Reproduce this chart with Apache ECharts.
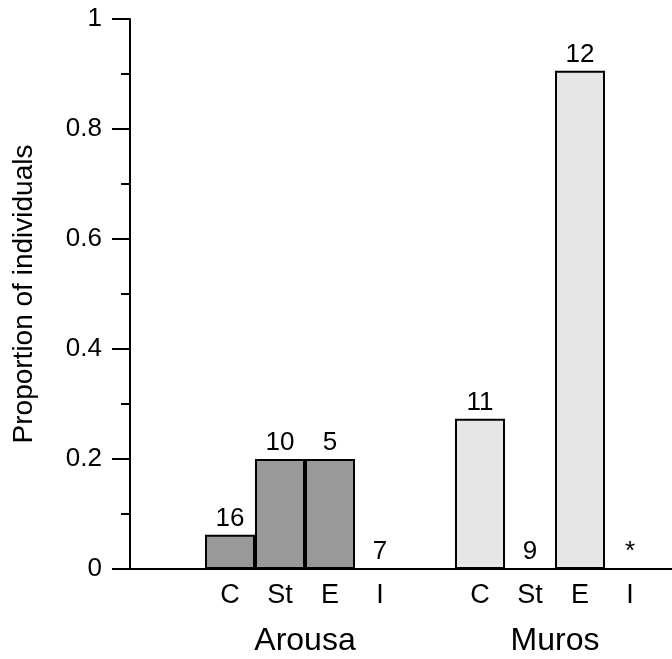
<!DOCTYPE html>
<html>
<head>
<meta charset="utf-8">
<script src="https://cdn.jsdelivr.net/npm/echarts@6/dist/echarts.min.js"></script>
<style>
  html, body { margin: 0; padding: 0; background: #ffffff; }
  #chart { width: 672px; height: 659px; }
</style>
</head>
<body>
<div id="chart"></div>
<script>
// x slots (blank ones are gaps between the two sites)
const categories = ['', '', 'C', 'St', 'E', 'I', '', 'C', 'St', 'E', 'I', '']
const groupSlots = ['', '', '', 'Arousa', '', '', '', '', 'Muros', '', '']

// proportion of individuals, per stage
const arousaValues = [0.0625, 0.2, 0.2, 0]
const murosValues = [0.273, 0, 0.906, 0]
// sample sizes shown above bars
const arousaN = ['16', '10', '5', '7']
const murosN = ['11', '9', '12', '*']

const yTicks = [0, 0.2, 0.4, 0.6, 0.8, 1]

const FONT = 'Liberation Sans, Arial, sans-serif'

// place each site's values on its slots (first slot index 2 and 7)
function placeValues(values, labels, start) {
  return categories.map((c, i) => {
    const k = i - start
    if (k >= 0 && k < values.length) {
      return { value: values[k], label: { formatter: labels[k] } }
    }
    return null
  })
}

const chart = echarts.init(document.getElementById('chart'))

const barLabel = {
  show: true,
  position: 'top',
  distance: 3,
  color: '#000',
  fontFamily: FONT,
  fontSize: 26,
}

const option = {
  backgroundColor: '#ffffff',
  animation: false,
  grid: { left: 130, top: 19, width: 550, height: 550, outerBoundsMode: 'none', containLabel: false },
  xAxis: [
    {
      type: 'category',
      data: categories,
      boundaryGap: false,
      axisLine: { lineStyle: { color: '#000', width: 2 } },
      axisTick: { show: false },
      axisLabel: {
        interval: 0,
        margin: 13,
        color: '#000',
        fontFamily: FONT,
        fontSize: 27,
      },
    },
    {
      type: 'category',
      data: groupSlots,
      position: 'bottom',
      boundaryGap: true,
      axisLine: { show: false },
      axisTick: { show: false },
      axisLabel: {
        interval: 0,
        margin: 56,
        color: '#000',
        fontFamily: FONT,
        fontSize: 32,
      },
    },
  ],
  yAxis: {
    type: 'value',
    min: 0,
    max: 1,
    interval: 0.2,
    name: 'Proportion of individuals',
    nameLocation: 'middle',
    nameGap: 92,
    nameTextStyle: { color: '#000', fontFamily: FONT, fontSize: 28 },
    axisLine: { show: true, lineStyle: { color: '#000', width: 2 } },
    axisTick: { show: true, length: 18, lineStyle: { color: '#000', width: 2 } },
    minorTick: { show: true, splitNumber: 2, length: 9, lineStyle: { color: '#000', width: 2 } },
    splitLine: { show: false },
    axisLabel: {
      margin: 28,
      color: '#000',
      fontFamily: FONT,
      fontSize: 26,
      formatter: v => (yTicks.includes(+v.toFixed(1)) ? String(+v.toFixed(1)) : ''),
    },
  },
  series: [
    {
      name: 'Arousa',
      type: 'bar',
      barWidth: 50,
      barGap: '-100%',
      data: placeValues(arousaValues, arousaN, 2),
      itemStyle: { color: '#999999', borderColor: '#000', borderWidth: 2 },
      label: barLabel,
    },
    {
      name: 'Muros',
      type: 'bar',
      barWidth: 50,
      barGap: '-100%',
      data: placeValues(murosValues, murosN, 7),
      itemStyle: { color: '#e6e6e6', borderColor: '#000', borderWidth: 2 },
      label: barLabel,
    },
  ],
}

chart.setOption(option)
</script>
</body>
</html>
